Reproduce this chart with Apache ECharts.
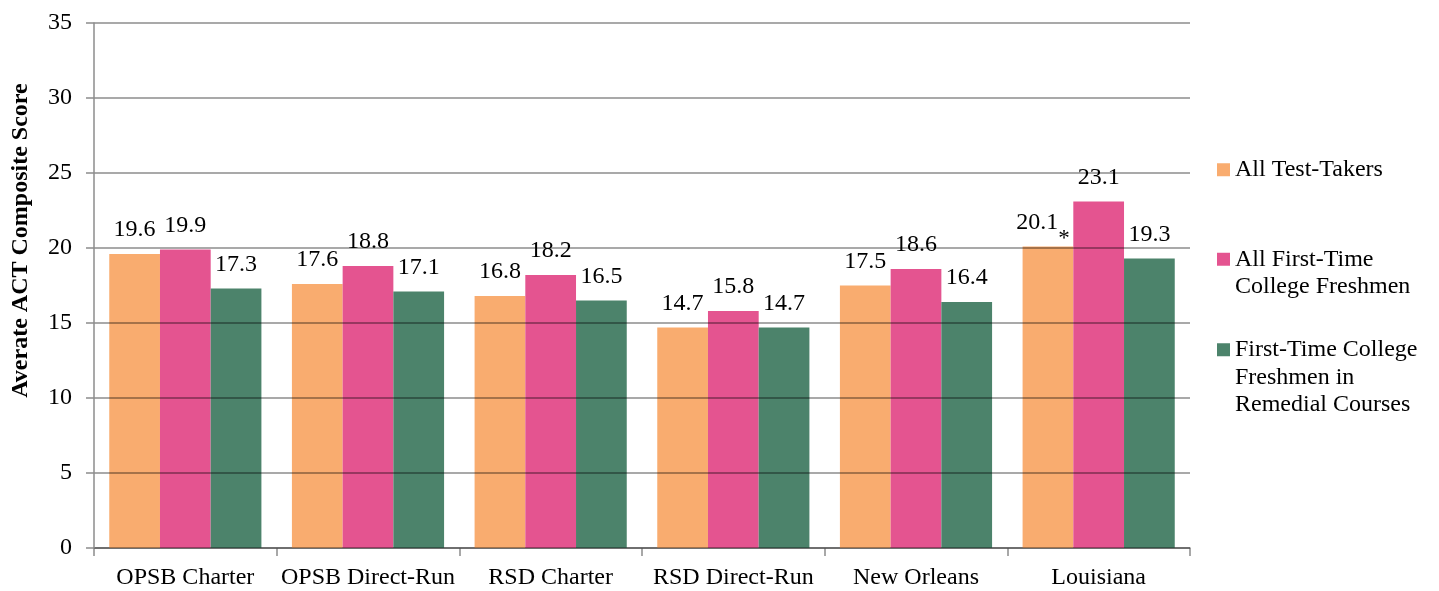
<!DOCTYPE html>
<html>
<head>
<meta charset="utf-8">
<script src="https://cdn.jsdelivr.net/npm/echarts@6/dist/echarts.min.js"></script>
<style>
html,body{margin:0;padding:0;background:#fff;}
#chart{width:1439px;height:591px;}
</style>
</head>
<body>
<div id="chart"></div>
<script>
const categories = ['OPSB Charter', 'OPSB Direct-Run', 'RSD Charter', 'RSD Direct-Run', 'New Orleans', 'Louisiana'];
const seriesNames = ['All Test-Takers', 'All First-Time\nCollege Freshmen', 'First-Time College\nFreshmen in\nRemedial Courses'];
const allTestTakers = [19.6, 17.6, 16.8, 14.7, 17.5, 20.1];
const allFreshmen = [19.9, 18.8, 18.2, 15.8, 18.6, 23.1];
const remedialFreshmen = [17.3, 17.1, 16.5, 14.7, 16.4, 19.3];
const testTakerNotes = ['', '', '', '', '', '*'];
const yTicks = [0, 5, 10, 15, 20, 25, 30, 35];

const FONT = 'Liberation Serif';
const FS = 24;
const colors = ['#F9AC6F', '#E45490', '#4C836B'];
const STAR_PAD = 16;

function seriesData(values, notes) {
  return values.map((v, i) => {
    if (notes && notes[i]) {
      return {
        value: v,
        label: {
          formatter: '{v|' + v.toFixed(1) + '}{s|' + notes[i] + '}',
          distance: 12 - STAR_PAD,
          offset: [-5, 0],
          rich: {
            v: { fontFamily: FONT, fontSize: FS, color: '#000', padding: [0, 0, STAR_PAD, 0] },
            s: { fontFamily: FONT, fontSize: FS - 1, color: '#000', padding: [STAR_PAD, 0, 0, 0] }
          }
        }
      };
    }
    return v;
  });
}

const valueSets = [seriesData(allTestTakers, testTakerNotes), seriesData(allFreshmen), seriesData(remedialFreshmen)];

const chart = echarts.init(document.getElementById('chart'), null, { renderer: 'canvas' });

// marker sits beside the first line of a multi-line legend entry
function legendFor(i, top) {
  return {
    orient: 'vertical',
    left: 1217,
    top: top,
    padding: 0,
    icon: 'rect',
    itemWidth: 13,
    itemHeight: 13,
    selectedMode: false,
    data: [seriesNames[i]],
    formatter: function (name) {
      const n = name.split('\n').length;
      return '\n'.repeat(n - 1) + name;
    },
    textStyle: { fontFamily: FONT, fontSize: FS, color: '#000', lineHeight: 27.5 }
  };
}

chart.setOption({
  animation: false,
  color: colors,
  textStyle: { fontFamily: FONT },
  grid: { left: 94, right: 249, top: 23, bottom: 43, containLabel: false },
  legend: [
    legendFor(0, 156),
    legendFor(1, 218),
    legendFor(2, 281)
  ],
  xAxis: {
    type: 'category',
    data: categories,
    axisLine: { show: true, lineStyle: { color: '#8c8c8c', width: 1.5 } },
    axisTick: { show: true, interval: 0, length: 8, lineStyle: { color: '#8c8c8c', width: 1.5 } },
    axisLabel: { interval: 0, fontFamily: FONT, fontSize: FS, color: '#000', margin: 18 },
    splitLine: { show: false }
  },
  yAxis: {
    type: 'value',
    min: yTicks[0],
    max: yTicks[yTicks.length - 1],
    interval: 5,
    z: 5,
    name: 'Averate ACT Composite Score',
    nameLocation: 'middle',
    nameGap: 61,
    nameTextStyle: { fontFamily: FONT, fontSize: 24, fontWeight: 'bold', color: '#000', padding: [0, 0, 0, 90] },
    axisLine: { show: true, lineStyle: { color: '#8c8c8c', width: 1.5 } },
    axisTick: { show: true, length: 8, lineStyle: { color: '#8c8c8c', width: 1.5 } },
    axisLabel: { fontFamily: FONT, fontSize: FS, color: '#000', margin: 22 },
    splitLine: { show: true, lineStyle: { color: 'rgba(0,0,0,0.45)', width: 1.5 } }
  },
  series: seriesNames.map((name, i) => ({
    name: name,
    type: 'bar',
    data: valueSets[i],
    barGap: '0%',
    barCategoryGap: '16.7%',
    itemStyle: { color: colors[i] },
    label: {
      show: true,
      position: 'top',
      distance: 12,
      fontFamily: FONT,
      fontSize: FS,
      color: '#000',
      formatter: p => (typeof p.value === 'number' ? p.value : p.data.value).toFixed(1)
    }
  }))
});
</script>
</body>
</html>
